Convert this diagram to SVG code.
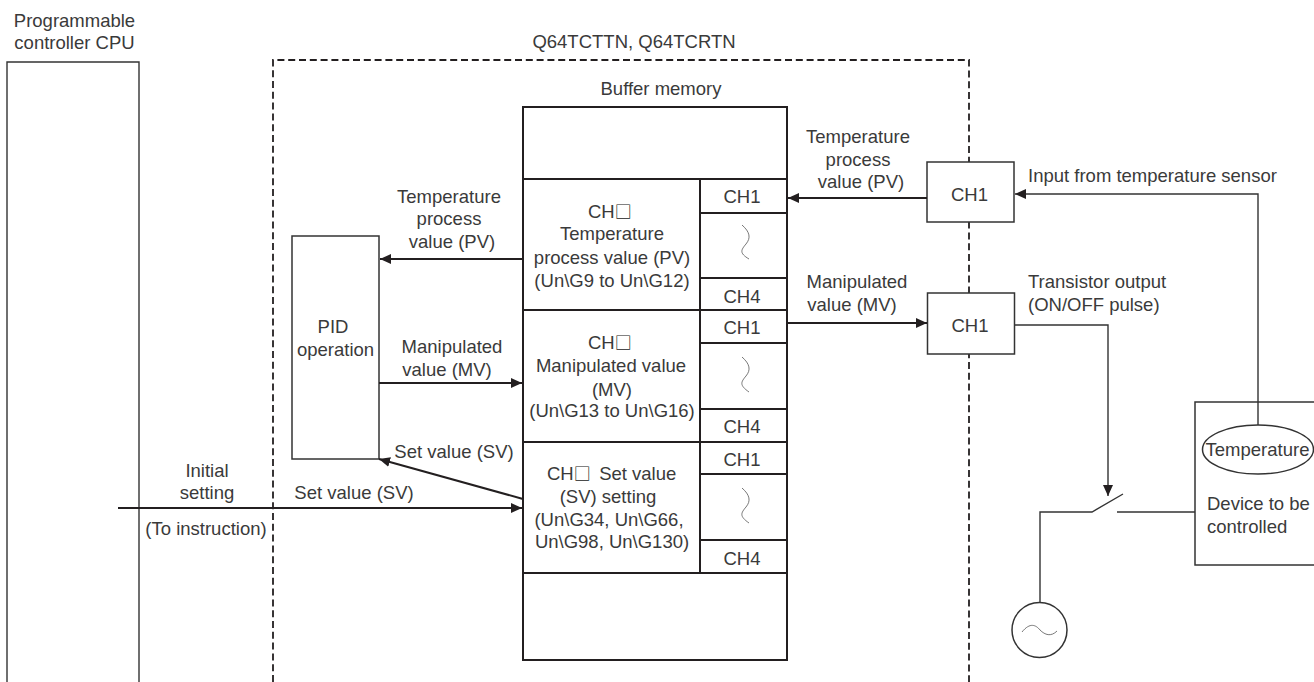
<svg xmlns="http://www.w3.org/2000/svg" width="1314" height="682" viewBox="0 0 1314 682">
<style>
text{font-family:"Liberation Sans",Arial,sans-serif;font-size:18.5px;fill:#3a3a3a;text-anchor:middle}
.s{text-anchor:start}
.q{font-family:"Noto Sans CJK JP",sans-serif;font-size:17px;fill:#222}
.l{fill:none;stroke:#333;stroke-width:1.4}
.t{fill:none;stroke:#231f20;stroke-width:2}
.b{fill:#fff;stroke:#333;stroke-width:1.5}
.d{fill:none;stroke:#231f20;stroke-width:1.8;stroke-dasharray:7 3.8}
.w{fill:none;stroke:#555;stroke-width:.8}
</style>
<defs><marker id="a" markerUnits="userSpaceOnUse" markerWidth="12" markerHeight="12" refX="11" refY="6" orient="auto"><path d="M0 1L11 6L0 11Z" fill="#231f20"/></marker></defs>
<g id="cpu"><path class="l" d="M7 682V62H139V682"/><text x="74.500" y="27">Programmable</text><text x="74.500" y="49">controller CPU</text></g>
<g id="module"><path class="d" d="M273 682V60H969V682"/><text x="634" y="48">Q64TCTTN, Q64TCRTN</text></g>
<g id="buffer-memory"><rect class="t" x="523" y="107" width="264" height="553"/><path class="t" d="M523 179H787M523 310H787M523 442H787M523 573H787M700 179V573M700 213H787M700 278H787M700 343H787M700 409H787M700 474H787M700 540H787"/>
<path class="w" d="M742 225C750 232 751 238 746 244C741 250 739 253 749 259M742 357C750 364 751 370 746 376C741 382 739 385 749 392M742 488C750 495 751 501 746 507C741 513 739 516 749 523"/>
<text x="661" y="95">Buffer memory</text>
<text x="742" y="203">CH1</text><text x="742" y="303">CH4</text><text x="742" y="334">CH1</text><text x="742" y="433">CH4</text><text x="742" y="466">CH1</text><text x="742" y="565">CH4</text>
<text class="s" x="588" y="218">CH<tspan class="q">□</tspan></text><text x="612" y="240">Temperature</text><text x="612" y="264">process value (PV)</text><text x="612" y="287">(Un\G9 to Un\G12)</text>
<text class="s" x="588" y="349">CH<tspan class="q">□</tspan></text><text x="611" y="372">Manipulated value</text><text x="612" y="396">(MV)</text><text x="612" y="417">(Un\G13 to Un\G16)</text>
<text class="s" x="547" y="480">CH<tspan class="q">□</tspan><tspan x="594"> Set value</tspan></text><text x="608" y="503">(SV) setting</text><text x="609" y="526">(Un\G34, Un\G66,</text><text x="612" y="548">Un\G98, Un\G130)</text></g>
<g id="pid"><rect class="b" x="292" y="236" width="87" height="223"/><text x="333" y="333">PID</text><text x="335.500" y="356">operation</text></g>
<g id="ch1-in"><rect class="b" x="927" y="162" width="87" height="60"/><text x="969.500" y="201">CH1</text></g>
<g id="ch1-out"><rect class="b" x="927.500" y="293" width="87" height="61"/><text x="970" y="332">CH1</text></g>
<g id="device"><rect class="b" x="1195" y="402" width="125" height="163"/><ellipse class="b" cx="1258" cy="449.500" rx="55.500" ry="24.500"/><text x="1257.500" y="456">Temperature</text><text class="s" x="1207" y="510">Device to be</text><text class="s" x="1207" y="533">controlled</text></g>
<g id="ac-source"><circle class="b" cx="1039.500" cy="630" r="27.500"/><path class="w" d="M1022 632C1030 622 1036 625 1040 630C1045 635 1051 637 1057 631"/></g>
<g id="connectors">
<path class="t" d="M927 198H788" marker-end="url(#a)"/>
<path class="l" d="M1258 425V194H1015" marker-end="url(#a)"/>
<path class="t" d="M787 323H927" marker-end="url(#a)"/>
<path class="l" d="M1015 325H1108V496" marker-end="url(#a)"/>
<path class="t" d="M523 259H380" marker-end="url(#a)"/>
<path class="t" d="M379 383H522" marker-end="url(#a)"/>
<path class="t" d="M523 499L379 459" marker-end="url(#a)"/>
<path class="t" d="M118 508H522" marker-end="url(#a)"/>
<path class="l" d="M1040 603V512H1092L1123 494M1117 512H1195"/>
</g>
<g id="labels">
<text x="449" y="203">Temperature</text><text x="449" y="225">process</text><text x="452" y="248">value (PV)</text>
<text x="452" y="353">Manipulated</text><text x="447" y="376">value (MV)</text>
<text x="454" y="458">Set value (SV)</text><text x="354" y="499">Set value (SV)</text>
<text x="207" y="477">Initial</text><text x="207" y="499">setting</text><text x="206" y="535">(To instruction)</text>
<text x="858" y="143">Temperature</text><text x="858" y="166">process</text><text x="861" y="188">value (PV)</text>
<text x="857" y="288">Manipulated</text><text x="852" y="311">value (MV)</text>
<text class="s" x="1028" y="182">Input from temperature sensor</text>
<text class="s" x="1028" y="288">Transistor output</text><text class="s" x="1028" y="311">(ON/OFF pulse)</text>
</g>
</svg>
